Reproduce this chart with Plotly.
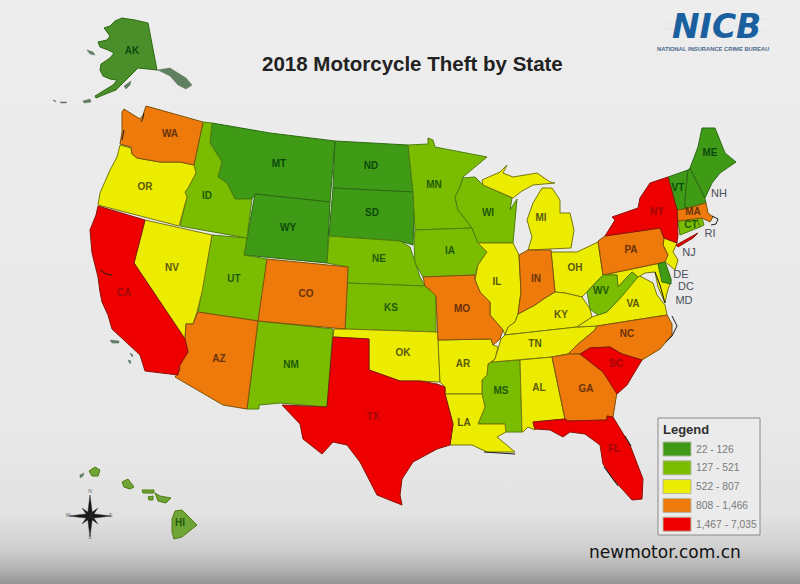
import math
import plotly.graph_objects as go

# legend classes, lowest to highest
bin_labels = ["22 - 126", "127 - 521", "522 - 807", "808 - 1,466", "1,467 - 7,035"]
bin_colors = ["#3f9a16", "#7abd00", "#ecec00", "#ee7a0c", "#ee0000"]
bin_lines = ["#2c6a12", "#4f7d10", "#77770e", "#7c5208", "#8a1408"]
label_colors = ["#0c4a0c", "#1f5a08", "#5a5a08", "#6a3208", "#a00808"]
fill_override = {"AK": "#4a8f2a", "HI": "#6fa536"}

bin_states = [
	["AK", "MT", "ND", "SD", "WY", "VT", "NH", "ME", "DE"],
	["ID", "UT", "NM", "NE", "KS", "MN", "IA", "WI", "MS", "HI", "CT", "RI"],
	["OR", "NV", "OK", "AR", "LA", "IL", "MI", "OH", "KY", "TN", "AL", "VA", "NJ", "MD"],
	["WA", "CO", "AZ", "MO", "IN", "PA", "NC", "GA", "MA"],
	["CA", "TX", "NY", "SC", "FL"],
]
# WV sits over VA and MD, drawn last
late_states = [("WV", 1), ("DE", 0)]

# state outlines, picture pixels
outlines = {
	"AK": [[(122,18),(135,20),(148,23),(152,45),(157,70),(148,69),(138,68),(131,75),(125,81),(122,85),(116,90),(108,93),(96,98),(95,96),(105,90),(113,85),(117,80),(110,79),(103,76),(100,70),(101,64),(110,58),(114,53),(108,50),(100,47),(98,42),(107,40),(110,36),(104,28),(110,26),(115,21)]],
	"WA": [[(124,109),(133,115),(140,119),(143,115),(146,106),(203,122),(194,165),(180,162),(160,162),(137,158),(132,154),(131,147),(120,144),(122,132),(122,112)]],
	"OR": [[(120,145),(131,148),(132,154),(137,158),(160,162),(180,162),(194,165),(196,173),(188,188),(185,192),(187,197),(179,226),(98,205),(100,193),(110,170),(117,157)]],
	"CA": [[(98,206),(145,220),(134,263),(152,290),(185,339),(188,352),(180,365),(178,375),(145,371),(140,355),(128,344),(112,329),(108,315),(102,302),(100,292),(98,277),(92,253),(90,230),(96,215)]],
	"NV": [[(145,220),(212,235),(202,292),(197,312),(193,324),(186,324),(185,339),(152,290),(134,263)]],
	"ID": [[(203,122),(212,123),(210,143),(222,162),(218,177),(227,183),(235,199),(252,199),(247,238),(180,226),(187,197),(185,192),(188,188),(196,173),(194,165)]],
	"MT": [[(212,123),(270,133),(335,141),(330,202),(255,194),(252,199),(235,199),(227,183),(218,177),(222,162),(210,143)]],
	"WY": [[(255,194),(330,202),(327,263),(244,255)]],
	"UT": [[(212,235),(247,238),(244,255),(267,259),(263,292),(258,321),(198,312)]],
	"CO": [[(267,259),(348,267),(347,292),(345,329),(258,321)]],
	"AZ": [[(198,312),(258,321),(247,409),(223,405),(175,377),(180,370),(178,365),(188,352),(185,339),(186,324),(193,324)]],
	"NM": [[(258,321),(333,329),(327,407),(280,403),(259,405),(259,409),(247,409)]],
	"TX": [[(333,337),(369,339),(369,370),(383,375),(400,381),(420,381),(437,384),(445,387),(445,394),(453,424),(450,445),(437,449),(413,462),(402,479),(400,495),(402,505),(377,495),(360,462),(347,445),(333,442),(322,454),(303,439),(300,424),(282,405),(327,407)]],
	"OK": [[(334,329),(345,329),(436,332),(438,333),(440,382),(420,381),(400,381),(383,375),(369,370),(369,339),(333,337)]],
	"KS": [[(347,283),(425,286),(430,290),(436,296),(436,332),(345,329)]],
	"NE": [[(329,236),(385,240),(400,241),(410,247),(415,263),(420,277),(425,286),(347,283),(348,267),(327,263)]],
	"SD": [[(333,188),(413,192),(414,213),(413,245),(400,241),(385,240),(329,236)]],
	"ND": [[(335,141),(408,145),(413,192),(333,188)]],
	"MN": [[(408,145),(428,144),(428,138),(433,140),(435,147),(450,150),(487,157),(463,177),(460,187),(455,197),(458,210),(472,228),(415,230),(413,192)]],
	"WI": [[(463,178),(475,177),(483,185),(512,198),(510,210),(517,199),(513,243),(478,243),(472,228),(458,210),(455,197),(460,187)]],
	"IA": [[(415,230),(472,228),(478,243),(487,252),(478,265),(475,275),(423,277),(415,263),(414,242)]],
	"MO": [[(423,277),(475,275),(475,280),(480,292),(490,302),(490,315),(503,330),(500,339),(493,345),(491,339),(438,340),(436,296),(430,290),(425,286)]],
	"AR": [[(438,340),(491,339),(493,345),(498,347),(495,359),(488,364),(487,375),(482,380),(482,394),(445,394),(445,387),(440,382)]],
	"LA": [[(445,394),(482,394),(485,407),(478,424),(505,424),(506,432),(497,437),(507,445),(515,452),(500,452),(487,452),(472,445),(450,445),(453,424)]],
	"MS": [[(492,362),(520,360),(522,432),(506,432),(505,424),(478,424),(485,407),(482,394),(482,380),(487,375),(488,364)]],
	"AL": [[(520,360),(552,357),(565,419),(533,422),(535,430),(528,427),(523,432),(522,432)]],
	"GA": [[(552,357),(568,354),(580,354),(603,372),(617,392),(613,417),(607,416),(607,420),(568,421),(565,419)]],
	"SC": [[(580,354),(590,348),(610,347),(622,354),(642,360),(627,385),(617,394),(603,372)]],
	"NC": [[(568,354),(577,345),(595,330),(597,326),(667,315),(672,324),(672,335),(660,349),(642,360),(622,354),(610,347),(590,348),(580,354)]],
	"TN": [[(505,335),(577,327),(597,326),(595,330),(577,345),(568,354),(552,357),(520,360),(492,362),(495,359),(499,347),(501,339)]],
	"KY": [[(505,335),(508,327),(515,322),(518,314),(535,305),(545,298),(555,292),(565,293),(582,297),(590,309),(592,317),(577,327)]],
	"VA": [[(577,327),(592,317),(598,315),(607,312),(623,295),(632,272),(653,283),(657,295),(665,305),(667,315),(597,326)]],
	"WV": [[(587,292),(603,275),(617,275),(618,287),(632,272),(638,277),(623,295),(607,312),(598,315),(590,309)]],
	"MD": [[(603,275),(665,262),(671,280),(667,293),(665,303),(658,287),(655,272),(645,273),(638,277),(632,272),(618,287),(617,275)]],
	"DE": [[(658,264),(665,262),(671,279),(671,284),(662,282)]],
	"NJ": [[(664,238),(677,243),(673,252),(678,260),(675,270),(663,260),(668,255),(663,245)]],
	"PA": [[(605,236),(598,241),(603,275),(665,262),(668,255),(663,245),(664,238),(660,228)]],
	"NY": [[(605,236),(615,220),(612,217),(623,213),(638,208),(640,198),(650,183),(668,177),(677,210),(678,235),(677,243),(664,238),(660,228)],
		[(676,245),(698,233),(693,238),(678,247)]],
	"VT": [[(668,177),(688,170),(685,200),(685,209),(677,210)]],
	"NH": [[(688,170),(690,168),(705,199),(706,203),(685,209),(685,200)]],
	"ME": [[(690,168),(698,147),(702,128),(715,128),(725,153),(736,162),(720,173),(712,183),(705,198)]],
	"MA": [[(677,210),(685,209),(706,203),(708,213),(713,217),(710,222),(702,218),(678,221)]],
	"CT": [[(678,221),(697,218),(700,227),(680,235)]],
	"RI": [[(697,218),(702,218),(704,225),(700,227)]],
	"OH": [[(551,252),(577,252),(598,242),(603,275),(598,280),(587,292),(582,297),(565,293),(555,292)]],
	"IN": [[(519,255),(528,250),(551,250),(555,292),(545,298),(535,305),(518,314),(521,292)]],
	"IL": [[(478,243),(513,243),(519,255),(521,292),(518,314),(515,322),(508,327),(505,335),(503,330),(490,315),(490,302),(480,292),(475,280),(478,265),(487,252)]],
	"MI": [[(482,180),(500,172),(507,165),(503,173),(513,177),(537,173),(550,182),(555,183),(533,185),(522,191),(513,198),(483,185)],
		[(542,188),(552,188),(560,200),(560,213),(570,213),(574,230),(571,248),(528,250),(532,237),(527,220),(533,203)]],
	"FL": [[(533,422),(565,419),(568,421),(607,420),(607,416),(613,417),(630,445),(643,479),(642,499),(632,500),(613,479),(603,464),(600,445),(585,434),(570,432),(563,437),(550,430),(535,429)]],
	"HI": [[(89,471),(95,467),(100,470),(98,476),(92,476)],
		[(122,482),(128,479),(134,487),(130,489),(124,487)],
		[(142,490),(154,490),(154,493),(143,493)],
		[(148,497),(153,496),(153,500),(149,500)],
		[(155,493),(160,496),(171,498),(166,503),(158,501)],
		[(172,519),(175,511),(182,510),(197,525),(182,537),(174,539),(172,532)]],
}

# gray bits the picture leaves outside the state fills
islands = [
	[(157,70),(170,68),(178,73),(186,78),(192,85),(186,89),(178,85),(170,76),(160,71)],
	[(124,86),(131,81),(130,85),(126,89)],
	[(83,101),(90,99),(91,102),(84,103)],
	[(87,50),(93,52),(95,55),(90,54)],
	[(110,340),(119,341),(119,343),(112,343)],
	[(130,353),(133,355),(132,357)],
	[(128,360),(131,361),(130,364)],
	[(53,100),(56,101),(55,102)],
	[(60,102),(67,102),(66,103),(61,103)],
	[(80,475),(84,473),(83,476),(80,478)],
]

# dark coast scraps: puget sound, chesapeake, outer banks, cape cod, florida
coast_marks = [
	[(144,113),(143,118),(141,122)],
	[(124,130),(122,140)],
	[(655,272),(660,285),(665,303)],
	[(672,316),(677,326),(672,336),(666,342)],
	[(712,216),(718,219),(716,224),(711,225)],
	[(604,467),(612,478),(618,486)],
	[(625,436),(631,446)],
	[(484,452),(500,453),(515,454)],
	[(100,270),(106,274),(112,275)],
]

# where each state's abbreviation sits
label_pos = {
	"AK": (132,51), "WA": (170,134), "OR": (145,187), "CA": (124,293), "NV": (172,268), "ID": (207,196),
	"MT": (279,164), "WY": (288,228), "UT": (234,279), "CO": (306,294), "AZ": (219,359), "NM": (291,365),
	"TX": (373,417), "OK": (403,353), "NE": (379,259), "KS": (391,308), "ND": (371,166), "SD": (372,213),
	"MN": (434,185), "IA": (450,251), "MO": (462,309), "AR": (463,364), "LA": (464,423), "MS": (501,391),
	"AL": (539,388), "TN": (535,344), "KY": (561,315), "IN": (536,279), "IL": (497,282), "WI": (488,213),
	"MI": (541,218), "OH": (575,268), "WV": (601,291), "VA": (633,304), "NC": (627,334), "SC": (616,364),
	"GA": (586,389), "FL": (614,449), "PA": (631,250), "NY": (657,212), "ME": (710,153), "VT": (678,188),
	"MA": (693,212), "CT": (691,225), "HI": (180,523),
}
outside_labels = {"NH": (719,194), "RI": (710,234), "NJ": (689,253), "DE": (681,275), "DC": (686,287), "MD": (684,301)}

bg_stops = [[0, "#ededed"], [0.75, "#e8e8e8"], [0.88, "#e2e2e2"], [0.94, "#cfcfcf"], [0.975, "#b2b2b2"], [1, "#939393"]]
logo_streaks = [[(664,23),(700,19)], [(662,29),(705,27)], [(715,33),(745,23)], [(722,36),(750,28)], [(745,21),(774,18)], [(742,33),(770,30)]]

fig = go.Figure()

# page background
fig.add_trace(go.Scatter(
	x=[0, 800, 800, 0, 0], y=[0, 0, 584, 584, 0], mode="none", fill="toself",
	fillgradient=dict(type="vertical", colorscale=bg_stops, start=0, stop=584),
	hoverinfo="skip",
))

for ring in islands:
	fig.add_trace(go.Scatter(
		x=[p[0] for p in ring] + [ring[0][0]], y=[p[1] for p in ring] + [ring[0][1]],
		mode="lines", fill="toself", fillcolor="#5f8060", line=dict(color="#5f6f60", width=0.5), hoverinfo="skip",
	))


def add_state(code, i):
	xs = []
	ys = []
	for ring in outlines[code]:
		xs += [p[0] for p in ring] + [ring[0][0], None]
		ys += [p[1] for p in ring] + [ring[0][1], None]
	fig.add_trace(go.Scatter(
		x=xs, y=ys, mode="lines", fill="toself", fillcolor=fill_override.get(code, bin_colors[i]),
		line=dict(color=bin_lines[i], width=1), name=code,
	))


for i, states in enumerate(bin_states):
	for code in states:
		if code != "DE":
			add_state(code, i)
for code, i in late_states:
	add_state(code, i)

for mark in coast_marks:
	fig.add_trace(go.Scatter(
		x=[p[0] for p in mark], y=[p[1] for p in mark], mode="lines",
		line=dict(color="#1c1c1c", width=1), hoverinfo="skip",
	))

# state labels
all_bins = [list(b) for b in bin_states]
all_bins[1].append("WV")
for i, states in enumerate(all_bins):
	codes = [c for c in states if c in label_pos]
	fig.add_trace(go.Scatter(
		x=[label_pos[c][0] for c in codes], y=[label_pos[c][1] for c in codes], text=codes,
		mode="text", textfont=dict(family="Liberation Sans", size=10, color=label_colors[i], weight="bold"),
		hoverinfo="skip",
	))
fig.add_trace(go.Scatter(
	x=[p[0] for p in outside_labels.values()], y=[p[1] for p in outside_labels.values()],
	text=list(outside_labels.keys()), mode="text",
	textfont=dict(family="Liberation Sans", size=11, color="#4a4f5a"), hoverinfo="skip",
))

# compass rose
cx, cy = 90, 516
for k in range(8):
	ang = k * math.pi / 4
	long_point = k % 2 == 0
	r = 21 if long_point else 11
	w = 2.6 if long_point else 2
	tip = (cx + r * math.sin(ang), cy - r * math.cos(ang))
	left = (cx + w * math.sin(ang - math.pi / 2), cy - w * math.cos(ang - math.pi / 2))
	right = (cx + w * math.sin(ang + math.pi / 2), cy - w * math.cos(ang + math.pi / 2))
	fig.add_trace(go.Scatter(
		x=[left[0], tip[0], right[0], left[0]], y=[left[1], tip[1], right[1], left[1]],
		mode="lines", fill="toself", fillcolor="#151515", line=dict(color="#333333", width=0.5), hoverinfo="skip",
	))
fig.add_trace(go.Scatter(
	x=[cx, cx, cx - 22, cx + 21], y=[cy - 24, cy + 22, cy, cy], text=["N", "S", "W", "E"], mode="text",
	textfont=dict(family="Liberation Sans", size=5, color="#666666"), hoverinfo="skip",
))

# legend box
shapes = [dict(type="rect", x0=658, x1=760, y0=418, y1=535, fillcolor="#ebebeb", line=dict(color="#8a8a8a", width=1), layer="above")]
annotations = []
for i, label in enumerate(bin_labels):
	top = 442 + i * 18.8
	shapes.append(dict(type="rect", x0=663, x1=691, y0=top, y1=top + 14, fillcolor=bin_colors[i], line=dict(color="#b8b8a0", width=1), layer="above"))
	annotations.append(dict(x=694, y=top + 7, text=label, showarrow=False, xanchor="left", font=dict(family="Liberation Sans", size=10.3, color="#7a7a7a")))
annotations += [
	dict(x=661, y=429, text="<b>Legend</b>", showarrow=False, xanchor="left", font=dict(family="Liberation Sans", size=13, color="#303030")),
	dict(x=412, y=63, text="<b>2018 Motorcycle Theft by State</b>", showarrow=False, font=dict(family="Liberation Sans", size=20.5, color="#222222")),
	dict(x=716, y=26, text="<b><i>NICB</i></b>", showarrow=False, font=dict(family="DejaVu Sans", size=33, color="#1a5f9e")),
	dict(x=713, y=49, text="<b>NATIONAL INSURANCE CRIME BUREAU</b>", showarrow=False, font=dict(family="Liberation Sans", size=5.8, color="#4a6a8a")),
	dict(x=664.5, y=552, text="newmotor.com.cn", showarrow=False, font=dict(family="DejaVu Sans", size=17, color="#111111")),
]
for s in logo_streaks:
	shapes.append(dict(type="line", x0=s[0][0], y0=s[0][1], x1=s[1][0], y1=s[1][1], line=dict(color="#dfe8f0", width=1), layer="above"))

fig.update_layout(
	width=800, height=584,
	margin=dict(l=0, r=0, t=0, b=0, pad=0),
	showlegend=False,
	paper_bgcolor="#ededed",
	plot_bgcolor="#ededed",
	shapes=shapes,
	annotations=annotations,
	xaxis=dict(range=[0, 800], visible=False, fixedrange=True),
	yaxis=dict(range=[584, 0], visible=False, fixedrange=True),
)
fig.write_html("out.html", config={"displayModeBar": False}, post_script="document.body.style.margin='0';document.body.style.overflow='hidden';")
